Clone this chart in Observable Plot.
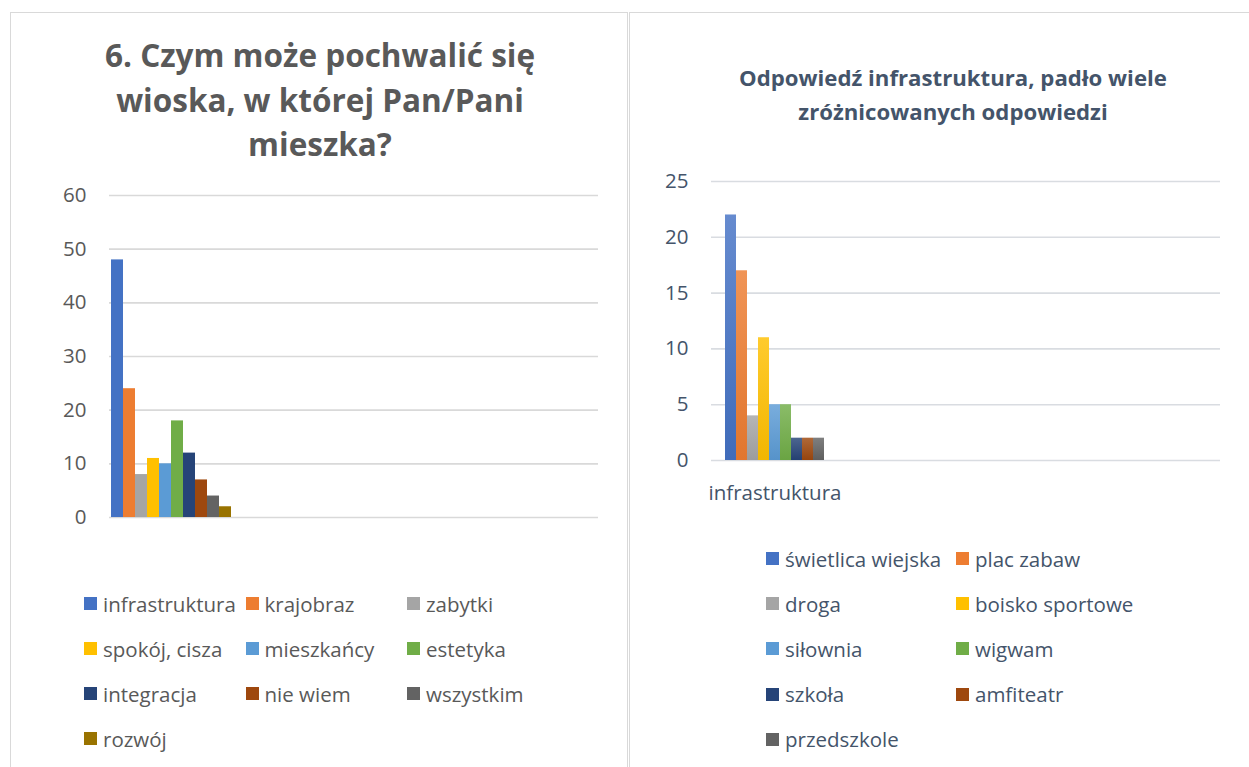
<!DOCTYPE html>
<html><head><meta charset="utf-8">
<script src="https://cdn.jsdelivr.net/npm/d3@7"></script>
<script src="https://cdn.jsdelivr.net/npm/@observablehq/plot@0.6"></script>
<style>
body{margin:0;width:1249px;height:767px;overflow:hidden;background:#fff;font-family:"Open Sans",sans-serif;position:relative;}
.panel{position:absolute;border:1px solid #D9D9D9;background:#fff;}
.title{position:absolute;text-align:center;font-weight:700;white-space:nowrap;}
.leg{position:absolute;display:flex;align-items:center;height:30px;white-space:nowrap;font-size:20.5px;}
.sw{display:inline-block;width:13px;height:13px;margin-right:6px;}
.chart{position:absolute;}
</style></head><body>
<div class="panel" style="left:10px;top:12px;width:616px;height:800px"></div>
<div class="panel" style="left:629px;top:12px;width:700px;height:800px"></div>
<div id="t1" class="title" style="left:12px;top:33px;width:616px;font-size:31.5px;line-height:44.5px;color:#595959"></div>
<div id="t2" class="title" style="left:631px;top:61px;width:644px;font-size:22.2px;line-height:34px;color:#44546A"></div>
<div id="c1" class="chart" style="left:0px;top:170px"></div>
<div id="c2" class="chart" style="left:629px;top:160px"></div>
<div id="l1"></div>
<div id="l2"></div>
<script>
// ---- Left chart data ----
const leftTitle = ["6. Czym może pochwalić się", "wioska, w której Pan/Pani", "mieszka?"];
const leftSeries = ["infrastruktura", "krajobraz", "zabytki", "spokój, cisza", "mieszkańcy", "estetyka", "integracja", "nie wiem", "wszystkim", "rozwój"];
const leftValues = [48, 24, 8, 11, 10, 18, 12, 7, 4, 2];
const leftColors = ["#4472C4", "#ED7D31", "#A5A5A5", "#FFC000", "#5B9BD5", "#70AD47", "#264478", "#9E480E", "#636363", "#997300"];
const leftTicks = [0, 10, 20, 30, 40, 50, 60];

// ---- Right chart data ----
const rightTitle = ["Odpowiedź infrastruktura, padło wiele", "zróżnicowanych odpowiedzi"];
const rightCategory = "infrastruktura";
const rightSeries = ["świetlica wiejska", "plac zabaw", "droga", "boisko sportowe", "siłownia", "wigwam", "szkoła", "amfiteatr", "przedszkole"];
const rightValues = [22, 17, 4, 11, 5, 5, 2, 2, 2];
const rightColors = ["#4472C4", "#ED7D31", "#A5A5A5", "#FFC000", "#5B9BD5", "#70AD47", "#264478", "#9E480E", "#636363"];
const rightTicks = [0, 5, 10, 15, 20, 25];

document.getElementById("t1").innerHTML = leftTitle.join("<br>");
document.getElementById("t2").innerHTML = rightTitle.join("<br>");

const leftData = leftSeries.map((s, i) => ({s, v: leftValues[i]}));
const rightData = rightSeries.map((s, i) => ({s, v: rightValues[i]}));

const p1 = Plot.plot({
  width: 620, height: 360,
  marginLeft: 109, marginRight: 22, marginTop: 25, marginBottom: 13,
  style: {fontFamily: "Open Sans", fontSize: "20.5px", color: "#595959", background: "transparent", overflow: "visible"},
  x: {type: "band", domain: leftSeries, range: [109, 232], padding: 0, axis: null},
  y: {domain: [0, 60], label: null},
  color: {domain: leftSeries, range: leftColors},
  marks: [
    Plot.gridY(leftTicks, {stroke: "#D9D9D9", strokeOpacity: 1, strokeWidth: 1.6}),
    Plot.axisY(leftTicks, {tickSize: 0, tickPadding: 23, fontSize: 20.5, fill: "#595959", label: null}),
    Plot.barY(leftData, {x: "s", y: "v", fill: "s"})
  ]
});
document.getElementById("c1").appendChild(p1);

const p2 = Plot.plot({
  width: 620, height: 360,
  marginLeft: 82, marginRight: 29, marginTop: 21, marginBottom: 60,
  style: {fontFamily: "Open Sans", fontSize: "20.5px", color: "#44546A", background: "transparent", overflow: "visible"},
  x: {type: "band", domain: rightSeries, range: [94, 197], padding: 0, axis: null},
  y: {domain: [0, 25], label: null},
  color: {domain: rightSeries, range: rightColors},
  marks: [
    Plot.gridY(rightTicks, {stroke: "#D9DCE1", strokeOpacity: 1, strokeWidth: 1.6}),
    Plot.axisY(rightTicks, {tickSize: 0, tickPadding: 23, fontSize: 20.5, fill: "#44546A", label: null}),
    Plot.barY(rightData, {x: "s", y: "v", fill: "s"}),
    Plot.text([rightCategory], {x: () => rightSeries[Math.floor(rightSeries.length / 2)], frameAnchor: "bottom", dy: 33, lineAnchor: "middle", fontSize: 20.5, fill: "#44546A"})
  ]
});
document.getElementById("c2").appendChild(p2);

// gradient fills for the right chart (Excel gradient style)
(function () {
  const ns = "http://www.w3.org/2000/svg";
  const defs = document.createElementNS(ns, "defs");
  const map = {};
  rightColors.forEach((c, i) => {
    const g = document.createElementNS(ns, "linearGradient");
    g.setAttribute("id", "rg" + i);
    g.setAttribute("x1", 0); g.setAttribute("y1", 0); g.setAttribute("x2", 0); g.setAttribute("y2", 1);
    const top = d3.interpolateRgb(c, "#ffffff")(0.18);
    const bot = d3.color(c).darker(0.15).formatHex();
    [[0, top], [1, bot]].forEach(([o, col]) => {
      const s = document.createElementNS(ns, "stop");
      s.setAttribute("offset", o); s.setAttribute("stop-color", col);
      g.appendChild(s);
    });
    defs.appendChild(g);
    map[d3.color(c).formatHex()] = "url(#rg" + i + ")";
  });
  p2.insertBefore(defs, p2.firstChild);
  p2.querySelectorAll('g[aria-label="bar"] rect').forEach(r => {
    const f = r.getAttribute("fill");
    if (f && map[d3.color(f).formatHex()]) r.setAttribute("fill", map[d3.color(f).formatHex()]);
  });
})();

function legend(el, series, colors, ncols, x0, colW, y0, rowH, textColor) {
  series.forEach((s, i) => {
    const col = i % ncols, row = Math.floor(i / ncols);
    const d = document.createElement("div");
    d.className = "leg";
    d.style.left = (x0 + col * colW) + "px";
    d.style.top = (y0 + row * rowH - 15) + "px";
    d.style.color = textColor;
    const sw = document.createElement("span");
    sw.className = "sw";
    sw.style.background = colors[i];
    d.appendChild(sw);
    d.appendChild(document.createTextNode(s));
    el.appendChild(d);
  });
}
legend(document.getElementById("l1"), leftSeries, leftColors, 3, 84, 161.5, 603.5, 45, "#595959");
legend(document.getElementById("l2"), rightSeries, rightColors, 2, 766, 190, 558.5, 45.2, "#44546A");
</script>
</body></html>
